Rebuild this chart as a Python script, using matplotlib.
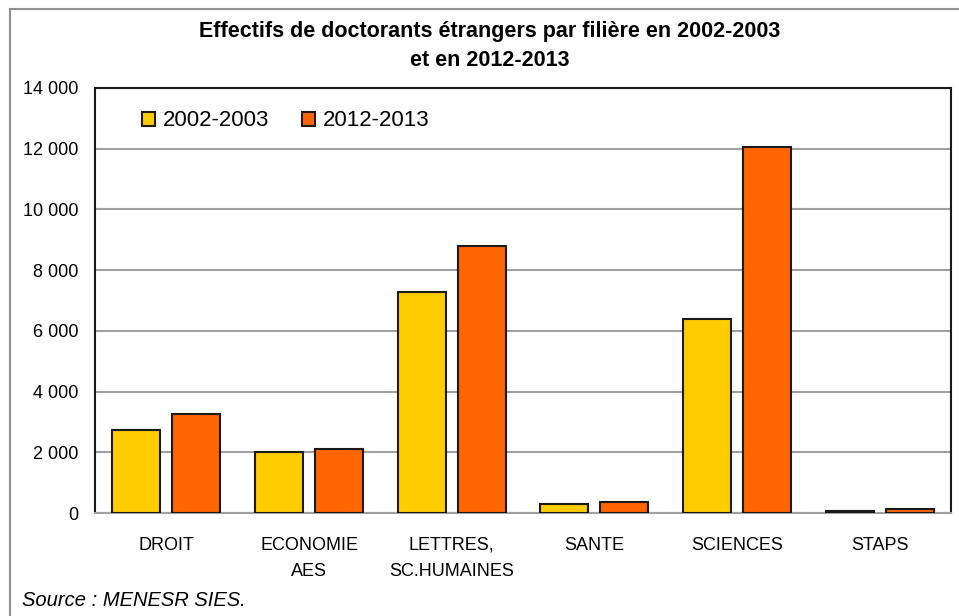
import numpy as np
import matplotlib
matplotlib.use("Agg")
import matplotlib.pyplot as plt
from matplotlib.lines import Line2D
from matplotlib.ticker import FuncFormatter

categories = ["DROIT", "ECONOMIE\nAES", "LETTRES,\nSC.HUMAINES", "SANTE", "SCIENCES", "STAPS"]
series_names = ["2002-2003", "2012-2013"]
values_2002 = [2750, 2000, 7280, 300, 6400, 70]
values_2012 = [3260, 2110, 8800, 370, 12060, 130]
yticks = [0, 2000, 4000, 6000, 8000, 10000, 12000, 14000]

plt.rcParams['font.family'] = ['Liberation Sans', 'DejaVu Sans']

fig = plt.figure(figsize=(9.59, 6.16), dpi=100)
ax = fig.add_axes([95 / 959, 1 - 513 / 616, 856 / 959, 425 / 616])

x = np.arange(len(categories))
w = 0.335
ax.bar(x - 0.21, values_2002, w, color='#FFCC00', edgecolor='#1a1a1a', linewidth=1.5,
       label=series_names[0], zorder=3)
ax.bar(x + 0.21, values_2012, w, color='#FF6600', edgecolor='#1a1a1a', linewidth=1.5,
       label=series_names[1], zorder=3)

ax.set_xlim(-0.5, len(categories) - 0.5)
ax.set_ylim(0, 14000)
ax.set_yticks(yticks)
ax.yaxis.set_major_formatter(FuncFormatter(lambda v, p: f"{int(v):,}".replace(",", " ")))
ax.yaxis.grid(True, color='#a0a0a0', linewidth=1.5, zorder=0)
ax.set_xticks(x)
ax.set_xticklabels(categories, fontsize=13, linespacing=1.75)
ax.tick_params(axis='x', length=0, pad=17)
ax.tick_params(axis='y', length=0, pad=12, labelsize=13)

for s in ['top', 'left', 'right']:
    ax.spines[s].set_color('#1a1a1a')
    ax.spines[s].set_linewidth(1.5)
ax.spines['bottom'].set_color('#a0a0a0')
ax.spines['bottom'].set_linewidth(1.5)

leg = ax.legend(loc='center left', bbox_to_anchor=((142 - 95) / 856, (513 - 121) / 425),
                ncol=2, frameon=False, fontsize=16, borderpad=0, borderaxespad=0,
                handlelength=0.6, handleheight=0.6, handletextpad=0.35,
                columnspacing=1.45)

fig.text(490 / 959, 1 - 31 / 616, "Effectifs de doctorants étrangers par filière en 2002-2003",
         ha='center', va='center', fontsize=15.5, fontweight='bold')
fig.text(490 / 959, 1 - 61 / 616, "et en 2012-2013",
         ha='center', va='center', fontsize=15.5, fontweight='bold')
fig.text(22 / 959, 1 - 601 / 616, "Source : MENESR SIES.", ha='left', va='center',
         fontsize=14.5, style='italic')

# outer frame of the original picture
fig.add_artist(Line2D([10 / 959, 10 / 959], [0, 1 - 9 / 616], transform=fig.transFigure,
                      color='#909090', linewidth=1.5))
fig.add_artist(Line2D([10 / 959, 1], [1 - 9 / 616, 1 - 9 / 616], transform=fig.transFigure,
                      color='#909090', linewidth=1.5))

fig.savefig("out.png", dpi=100)
